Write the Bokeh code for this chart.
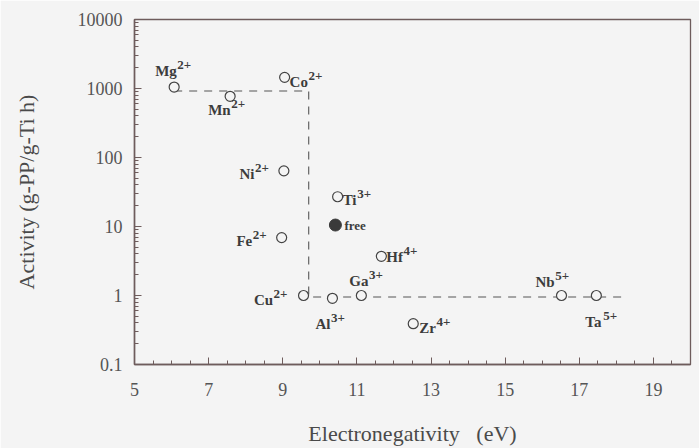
from bokeh.plotting import figure
from bokeh.models import Range1d, FixedTicker, CustomJSTickFormatter, ColumnDataSource
from bokeh.core.properties import value
from bokeh.embed import file_html
from bokeh.resources import INLINE

# ---- data ----
ions = ["Mg", "Mn", "Co", "Ni", "Fe", "Cu", "Ti", "Al", "Ga", "Hf", "Zr", "Nb", "Ta"]
charges = ["2+", "2+", "2+", "2+", "2+", "2+", "3+", "3+", "3+", "4+", "4+", "5+", "5+"]
electroneg = [6.07, 7.58, 9.05, 9.03, 8.97, 9.56, 10.48, 10.34, 11.12, 11.66, 12.52, 16.52, 17.46]
activity = [1050, 770, 1450, 64, 6.9, 1.0, 27, 0.91, 1.0, 3.7, 0.39, 1.0, 1.0]

free_en = [10.42]
free_act = [10.5]

trend_en = [6.07, 9.70, 9.70, 18.3]
trend_act = [920, 920, 0.95, 0.95]

x_ticks = [5, 7, 9, 11, 13, 15, 17, 19]
y_ticks = [0.1, 1, 10, 100, 1000, 10000]

# ---- label layout (screen offsets, px) ----
lab_dx = [-19, -22, 5, -15, -15, -16, 5, -17, -12, 5, 6, -26, -11]
lab_dy = [-16, 14, 5, 3, 3, 4, 3, 26, -15, 1, 4, -14, 26]
lab_align = ["left", "left", "left", "right", "right", "right", "left", "left",
             "left", "left", "left", "left", "left"]

BASE_SIZE = 15
SUP_SIZE = 13
SUP_RAISE = 6
# approximate bold serif advance widths (em)
W = {"M": .944, "g": .5, "n": .556, "C": .722, "o": .5, "N": .722, "i": .278, "F": .611,
     "e": .444, "u": .556, "T": .667, "A": .722, "l": .278, "G": .778, "a": .5, "H": .778,
     "f": .333, "Z": .667, "r": .444, "b": .556, "+": .57}


def tw(s, size):
    return sum(W.get(c, .5) for c in s) * size


base_dx, sup_dx, sup_dy = [], [], []
for ion, ch, dx, dy, al in zip(ions, charges, lab_dx, lab_dy, lab_align):
    if al == "left":
        base_dx.append(dx)
        sup_dx.append(dx + tw(ion, BASE_SIZE) + 0.5)
    else:
        sup_dx.append(dx)
        base_dx.append(dx - tw(ch, SUP_SIZE) - 0.5)
    sup_dy.append(dy - SUP_RAISE)

BG = "#f4f4f4"
AX = "#6e5c5c"
INK = "#3c3c3c"

p = figure(width=699, height=448, output_backend="svg", toolbar_location=None,
           x_range=Range1d(5, 20), y_range=Range1d(0.1, 10000), y_axis_type="log",
           min_border_left=134, min_border_right=9, min_border_top=19, min_border_bottom=76,
           background_fill_color=BG, border_fill_color=BG)
p.grid.visible = False
p.outline_line_color = AX
p.outline_line_width = 1.3

# axes
p.xaxis.ticker = FixedTicker(ticks=x_ticks, minor_ticks=[5 + 0.5 * k for k in range(31)])
minor_y = [m * 10.0 ** d for d in range(-1, 4) for m in range(2, 10)]
p.yaxis.ticker = FixedTicker(ticks=y_ticks, minor_ticks=minor_y)
p.yaxis.formatter = CustomJSTickFormatter(code="return tick >= 1 ? tick.toFixed(0) : tick.toString();")

for ax in (p.xaxis, p.yaxis):
    ax.axis_line_color = AX
    ax.axis_line_width = 1.5
    ax.major_tick_line_color = AX
    ax.minor_tick_line_color = AX
    ax.major_tick_in = 7
    ax.major_tick_out = 0
    ax.minor_tick_in = 4
    ax.minor_tick_out = 0
    ax.major_label_text_font = "Liberation Serif"
    ax.major_label_text_font_size = "18px"
    ax.major_label_text_color = "#555555"
    ax.axis_label_text_font = "Liberation Serif"
    ax.axis_label_text_font_size = "22px"
    ax.axis_label_text_font_style = "normal"
    ax.axis_label_text_color = "#4a4a4a"

p.xaxis.axis_label = "Electronegativity\u00a0\u00a0\u00a0(eV)"
p.yaxis.axis_label = "Activity (g-PP/g-Ti h)"
p.xaxis.major_label_standoff = 18
p.yaxis.major_label_standoff = 12
p.xaxis.axis_label_standoff = 22
p.yaxis.axis_label_standoff = 36

# dashed trend line
p.line(trend_en, trend_act, line_color="#555555", line_width=1.1, line_dash="8 7")

# points
src = ColumnDataSource(dict(x=electroneg, y=activity, ion=ions, ch=charges,
                            bdx=base_dx, sdx=sup_dx, bdy=lab_dy, sdy=sup_dy, al=lab_align))
p.scatter("x", "y", source=src, size=10, marker="circle", fill_color=BG,
          line_color="#444444", line_width=1.2)
p.scatter(free_en, free_act, size=12, marker="circle", fill_color="#3a3a3a", line_color="#3a3a3a")

p.text("x", "y", text="ion", source=src, x_offset="bdx", y_offset="bdy", text_align="al",
       text_baseline="alphabetic", text_font=value("Liberation Serif"), text_font_style="bold",
       text_font_size=f"{BASE_SIZE}px", text_color=INK)
p.text("x", "y", text="ch", source=src, x_offset="sdx", y_offset="sdy", text_align="al",
       text_baseline="alphabetic", text_font=value("Liberation Serif"), text_font_style="bold",
       text_font_size=f"{SUP_SIZE}px", text_color=INK)
p.text(free_en, free_act, text=["free"], x_offset=9, y_offset=0, text_align="left",
       text_baseline="alphabetic", text_font=value("Liberation Serif"), text_font_style="bold",
       text_font_size="13px", text_color=INK)

open("out.html", "w").write(file_html(p, INLINE))
